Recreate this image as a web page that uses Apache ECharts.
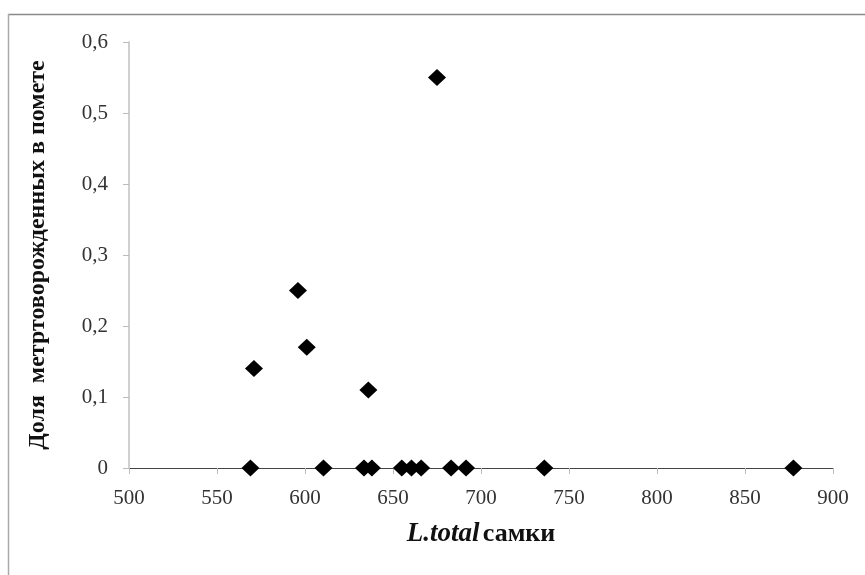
<!DOCTYPE html>
<html><head><meta charset="utf-8">
<script src="https://cdn.jsdelivr.net/npm/echarts@6/dist/echarts.min.js"></script>
<style>html,body{margin:0;padding:0;background:#fff}#c{width:865px;height:575px}</style>
</head><body><div id="c"></div>
<script>
const lengthValues = [569, 571, 596, 601, 610.5, 633.5, 638, 636, 655, 660.5, 666, 675, 683, 691.5, 736, 877.5];
const shareValues  = [0, 0.14, 0.25, 0.17, 0, 0, 0, 0.11, 0, 0, 0, 0.55, 0, 0, 0, 0];
const xTickLabels = ['500','550','600','650','700','750','800','850','900'];
const yTickLabels = ['0','0,1','0,2','0,3','0,4','0,5','0,6'];

const chart = echarts.init(document.getElementById('c'), null, {renderer:'canvas'});
const serif = '"Liberation Serif","Times New Roman",serif';
chart.setOption({
  animation:false,
  backgroundColor:'#fff',
  grid:{left:129, right:32, top:42, bottom:107},
  graphic:[
    {type:'line', shape:{x1:8, y1:14.5, x2:865, y2:14.5}, style:{stroke:'#8a8a8a', lineWidth:1.5}},
    {type:'line', shape:{x1:8.5, y1:14, x2:8.5, y2:575}, style:{stroke:'#aaaaaa', lineWidth:1.5}}
  ],
  xAxis:{
    type:'value', min:500, max:900, interval:50,
    name:'{i|L.total} {b|самки}', nameLocation:'middle', nameGap:53,
    nameTextStyle:{rich:{
      i:{fontFamily:serif, fontStyle:'italic', fontWeight:'bold', fontSize:27, color:'#111'},
      b:{fontFamily:serif, fontWeight:'bold', fontSize:26, color:'#111'}
    }},
    axisLine:{show:true, onZero:false, lineStyle:{color:'#444', width:1}},
    axisTick:{show:true, inside:false, length:6, lineStyle:{color:'#bbb'}},
    splitLine:{show:false},
    axisLabel:{fontFamily:serif, fontSize:21, color:'#333', margin:20,
      formatter:(v)=>xTickLabels[Math.round((v-500)/50)] ?? ''}
  },
  yAxis:{
    type:'value', min:0, max:0.6, interval:0.1,
    name:'Доля  метртоворожденных в помете', nameLocation:'middle', nameGap:79,
    nameTextStyle:{fontFamily:serif, fontWeight:'bold', fontSize:24, color:'#111'},
    axisLine:{show:true, lineStyle:{color:'#c0c0c0', width:1.5}},
    axisTick:{show:true, length:6, lineStyle:{color:'#bbb'}},
    splitLine:{show:false},
    axisLabel:{fontFamily:serif, fontSize:21, color:'#333', margin:21,
      formatter:(v)=>yTickLabels[Math.round(v*10)] ?? ''}
  },
  series:[{
    type:'scatter',
    symbol:'diamond',
    symbolSize:[18,17],
    itemStyle:{color:'#000', opacity:1},
    data: lengthValues.map((x,i)=>[x, shareValues[i]])
  }]
});
</script></body></html>
